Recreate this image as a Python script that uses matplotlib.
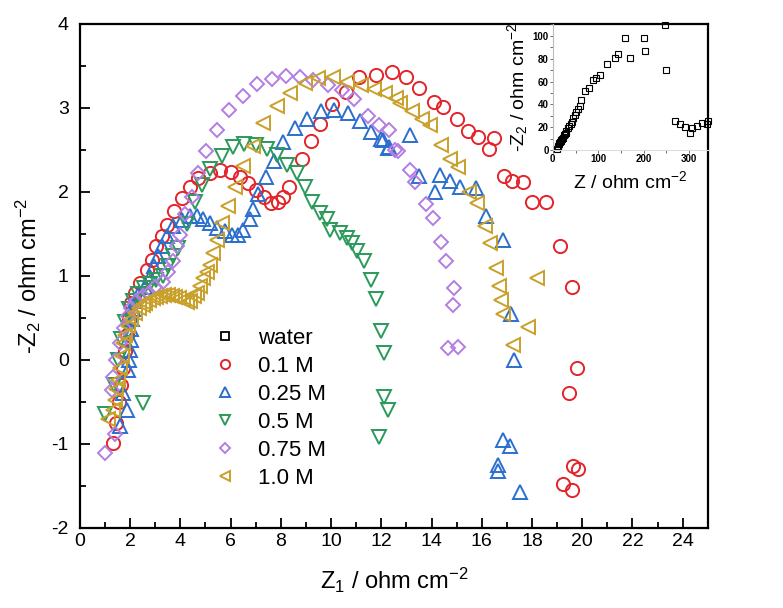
import matplotlib
matplotlib.use("Agg")
import matplotlib.pyplot as plt
from matplotlib.ticker import MultipleLocator

plt.rcParams["font.family"] = ["Liberation Sans", "DejaVu Sans"]
plt.rcParams["mathtext.default"] = "regular"
plt.rcParams["axes.unicode_minus"] = False

# 0.1 M
x_01 = [1.33, 1.45, 1.55, 1.62, 1.7, 1.78, 1.86, 1.95, 2.05, 2.2, 2.39, 2.66, 2.86, 3.05,
        3.25, 3.45, 3.76, 4.05, 4.38, 4.71, 5.18, 5.58, 6.0, 6.37, 6.71, 7.01, 7.34, 7.6,
        7.9, 8.1, 8.34, 8.83, 9.2, 9.56, 10.05, 10.58, 11.13, 11.8, 12.42, 12.98, 13.5,
        14.08, 14.47, 15.0, 15.47, 15.84, 16.3, 16.49, 16.9, 17.2, 17.64, 18.0, 18.55,
        19.12, 19.61, 19.79, 19.48, 19.63, 19.85, 19.23, 19.61]
y_01 = [-0.99, -0.75, -0.5, -0.3, -0.1, 0.1, 0.3, 0.5, 0.68, 0.8, 0.91, 1.07, 1.19, 1.35,
        1.47, 1.6, 1.77, 1.92, 2.06, 2.16, 2.22, 2.26, 2.24, 2.18, 2.10, 2.02, 1.94, 1.87,
        1.88, 1.94, 2.06, 2.39, 2.6, 2.81, 3.04, 3.19, 3.36, 3.39, 3.42, 3.36, 3.23, 3.07,
        3.01, 2.86, 2.72, 2.65, 2.51, 2.64, 2.19, 2.13, 2.11, 1.88, 1.88, 1.35, 0.87, -0.1,
        -0.4, -1.26, -1.3, -1.48, -1.55]

# 0.25 M
x_025 = [1.59, 1.86, 1.73, 1.93, 1.96, 1.99, 2.02, 2.05, 2.08, 2.12, 2.2, 2.35, 2.59, 2.79,
         2.95, 3.12, 3.25, 3.45, 3.72, 4.05, 4.38, 4.65, 4.91, 5.18, 5.45, 5.78, 6.04, 6.31,
         6.51, 6.77, 6.91, 7.11, 7.4, 7.73, 8.1, 8.57, 9.03, 9.59, 10.12, 10.69, 11.16, 11.6,
         12.0, 12.08, 12.28, 12.32, 13.15, 13.52, 14.14, 14.34, 14.74, 15.14, 15.78, 16.18,
         16.84, 17.16, 17.3, 16.86, 17.13, 16.63, 16.63, 17.53]
y_025 = [-0.79, -0.6, -0.4, -0.12, 0.0, 0.12, 0.24, 0.36, 0.48, 0.6, 0.7, 0.8, 0.87, 0.99,
         1.11, 1.23, 1.35, 1.47, 1.59, 1.66, 1.71, 1.71, 1.67, 1.63, 1.57, 1.53, 1.49, 1.49,
         1.55, 1.67, 1.79, 1.97, 2.17, 2.37, 2.59, 2.76, 2.86, 2.96, 2.97, 2.94, 2.84, 2.71,
         2.63, 2.62, 2.52, 2.53, 2.67, 2.19, 2.0, 2.2, 2.13, 2.06, 2.04, 1.71, 1.42, 0.55,
         0.0, -0.95, -1.03, -1.25, -1.33, -1.57]

# 0.5 M
x_05 = [1.0, 2.52, 1.35, 1.5, 1.65, 1.8, 1.95, 2.1, 2.3, 2.55, 2.8, 3.05, 3.32, 3.52, 3.72,
        3.92, 4.25, 4.58, 4.85, 5.18, 5.64, 6.11, 6.53, 7.01, 7.46, 7.84, 8.23, 8.63, 8.96,
        9.23, 9.56, 9.83, 9.96, 10.36, 10.62, 10.82, 11.05, 11.31, 11.58, 11.79, 11.98,
        12.11, 12.11, 12.28, 11.92]
y_05 = [-0.65, -0.52, -0.3, 0.0, 0.25, 0.45, 0.6, 0.7, 0.78, 0.85, 0.9, 0.95, 1.0, 1.12,
        1.23, 1.33, 1.61, 1.88, 2.08, 2.27, 2.42, 2.53, 2.57, 2.56, 2.51, 2.44, 2.32, 2.22,
        2.06, 1.88, 1.75, 1.67, 1.55, 1.51, 1.45, 1.39, 1.3, 1.18, 0.95, 0.72, 0.34, 0.08,
        -0.44, -0.6, -0.92]

# 0.75 M
x_075 = [1.0, 1.39, 1.26, 1.33, 1.45, 1.6, 1.75, 1.9, 2.05, 2.25, 2.5, 2.75, 3.0, 3.32,
         3.52, 3.69, 3.85, 3.98, 4.18, 4.45, 4.71, 5.03, 5.45, 5.95, 6.51, 7.06, 7.64, 8.21,
         8.76, 9.3, 9.89, 10.42, 10.93, 11.46, 11.92, 12.32, 12.55, 12.68, 13.15, 13.35,
         13.77, 14.04, 14.37, 14.58, 14.9, 14.85, 14.67, 15.07]
y_075 = [-1.11, -0.89, -0.36, -0.2, 0.0, 0.2, 0.38, 0.52, 0.62, 0.7, 0.76, 0.8, 0.86, 0.93,
         1.05, 1.17, 1.35, 1.49, 1.73, 1.94, 2.22, 2.48, 2.74, 2.97, 3.14, 3.28, 3.34, 3.38,
         3.37, 3.33, 3.27, 3.21, 3.1, 2.9, 2.79, 2.74, 2.5, 2.48, 2.26, 2.12, 1.85, 1.69,
         1.4, 1.18, 0.85, 0.65, 0.14, 0.15]

# 1.0 M
x_10 = [1.13, 1.3, 1.39, 1.45, 1.53, 1.6, 1.67, 1.73, 1.8, 1.93, 2.05, 2.19, 2.35, 2.52,
        2.6, 2.75, 2.9, 3.05, 3.2, 3.35, 3.5, 3.65, 3.8, 3.95, 4.1, 4.25, 4.4, 4.55, 4.65,
        4.78, 4.91, 5.05, 5.18, 5.31, 5.45, 5.64, 5.91, 6.18, 6.51, 6.91, 7.3, 7.84, 8.37,
        8.96, 9.49, 10.07, 10.62, 11.18, 11.69, 12.15, 12.59, 12.75, 13.21, 13.61, 13.92,
        14.38, 14.74, 15.07, 15.51, 15.8, 16.14, 16.33, 16.57, 16.67, 16.76, 16.84, 18.2,
        17.86, 17.24]
y_10 = [-0.71, -0.6, -0.48, -0.35, -0.24, -0.1, 0.05, 0.2, 0.3, 0.4, 0.48, 0.56, 0.62, 0.65,
        0.68, 0.71, 0.73, 0.75, 0.76, 0.77, 0.77, 0.76, 0.75, 0.73, 0.71, 0.69, 0.7, 0.76,
        0.79, 0.88, 0.97, 1.05, 1.13, 1.27, 1.43, 1.63, 1.83, 2.06, 2.31, 2.54, 2.82, 3.02,
        3.17, 3.29, 3.35, 3.36, 3.31, 3.27, 3.22, 3.17, 3.11, 3.06, 2.96, 2.86, 2.8, 2.56,
        2.39, 2.3, 2.0, 1.86, 1.59, 1.39, 1.09, 0.88, 0.71, 0.55, 0.97, 0.39, 0.18]

# water (inset)
x_w = [10, 11, 12, 13, 14, 15, 17, 18, 20, 22, 24, 26, 28, 30, 33, 36, 39, 42, 45, 49, 52,
       56, 60, 63, 70, 80, 89, 96, 103, 119, 136, 144, 158, 171, 201, 204, 248, 250, 270,
       281, 290, 301, 307, 318, 328, 339, 341]
y_w = [1, 3, 4, 5, 6, 7, 8, 9, 10, 11, 13, 14, 15, 17, 19, 21, 23, 25, 28, 31, 33, 36, 39,
       44, 51.6, 54.5, 61, 63, 66, 75, 81, 84, 98, 81, 98, 87, 109, 70, 25.5, 22.6, 20, 15.4,
       19.4, 20.9, 23.7, 22.6, 25.5]

series = [
    (x_01, y_01, "o", "#e3242b", "0.1 M"),
    (x_025, y_025, "^", "#2b6fce", "0.25 M"),
    (x_05, y_05, "v", "#2a9a5a", "0.5 M"),
    (x_075, y_075, "D", "#b37de3", "0.75 M"),
    (x_10, y_10, "<", "#c8a02a", "1.0 M"),
]

fig = plt.figure(figsize=(7.83, 6.08), dpi=100)
ax = fig.add_axes([0.102, 0.132, 0.802, 0.829])

ax.plot([], [], "s", mfc="none", mec="black", ms=9, mew=1.3, label="water")
for xs, ys, m, c, lab in series:
    ms = 7.5 if m == "D" else 9.5
    ax.plot(xs, ys, m, mfc="none", mec=c, ms=ms, mew=1.4, ls="none", label=lab)

ax.set_xlim(0, 25)
ax.set_ylim(-2, 4)
ax.xaxis.set_major_locator(MultipleLocator(2))
ax.xaxis.set_minor_locator(MultipleLocator(1))
ax.yaxis.set_major_locator(MultipleLocator(1))
ax.yaxis.set_minor_locator(MultipleLocator(0.5))
ax.tick_params(which="both", direction="in", labelsize=14, width=1.3)
ax.tick_params(axis="y", pad=8)
ax.tick_params(which="major", length=7)
ax.tick_params(which="minor", length=4)
for s in ax.spines.values():
    s.set_linewidth(1.6)
ax.set_xlabel("Z$_1$ / ohm cm$^{-2}$", fontsize=17, labelpad=12)
ax.set_ylabel("-Z$_2$ / ohm cm$^{-2}$", fontsize=17, labelpad=6)

leg = ax.legend(loc="lower left", bbox_to_anchor=(0.178, 0.037), frameon=False,
                fontsize=16, labelspacing=0.32, handletextpad=0.9, handlelength=1.2,
                markerscale=0.7)

# inset
ins = fig.add_axes([0.706, 0.753, 0.199, 0.207])
ins.patch.set_alpha(0)
ins.plot(x_w, y_w, "s", mfc="none", mec="black", ms=4, mew=0.8, clip_on=False)
ins.set_xlim(0, 343)
ins.set_ylim(0, 110)
ins.xaxis.set_major_locator(MultipleLocator(100))
ins.xaxis.set_minor_locator(MultipleLocator(50))
ins.yaxis.set_major_locator(MultipleLocator(20))
ins.yaxis.set_minor_locator(MultipleLocator(10))
ins.tick_params(which="both", labelsize=7, length=2, width=0.6, pad=1, colors="#555555",
                labelcolor="black")
for lbl in ins.get_xticklabels() + ins.get_yticklabels():
    lbl.set_fontweight("bold")
ins.spines["top"].set_visible(False)
ins.spines["right"].set_visible(False)
ins.spines["left"].set_color("#bbbbbb")
ins.spines["bottom"].set_color("#dddddd")
ins.set_xlabel("Z / ohm cm$^{-2}$", fontsize=14, labelpad=4)
ins.set_ylabel("-Z$_2$ / ohm cm$^{-2}$", fontsize=14, labelpad=2)

fig.savefig("out.png", dpi=100)
